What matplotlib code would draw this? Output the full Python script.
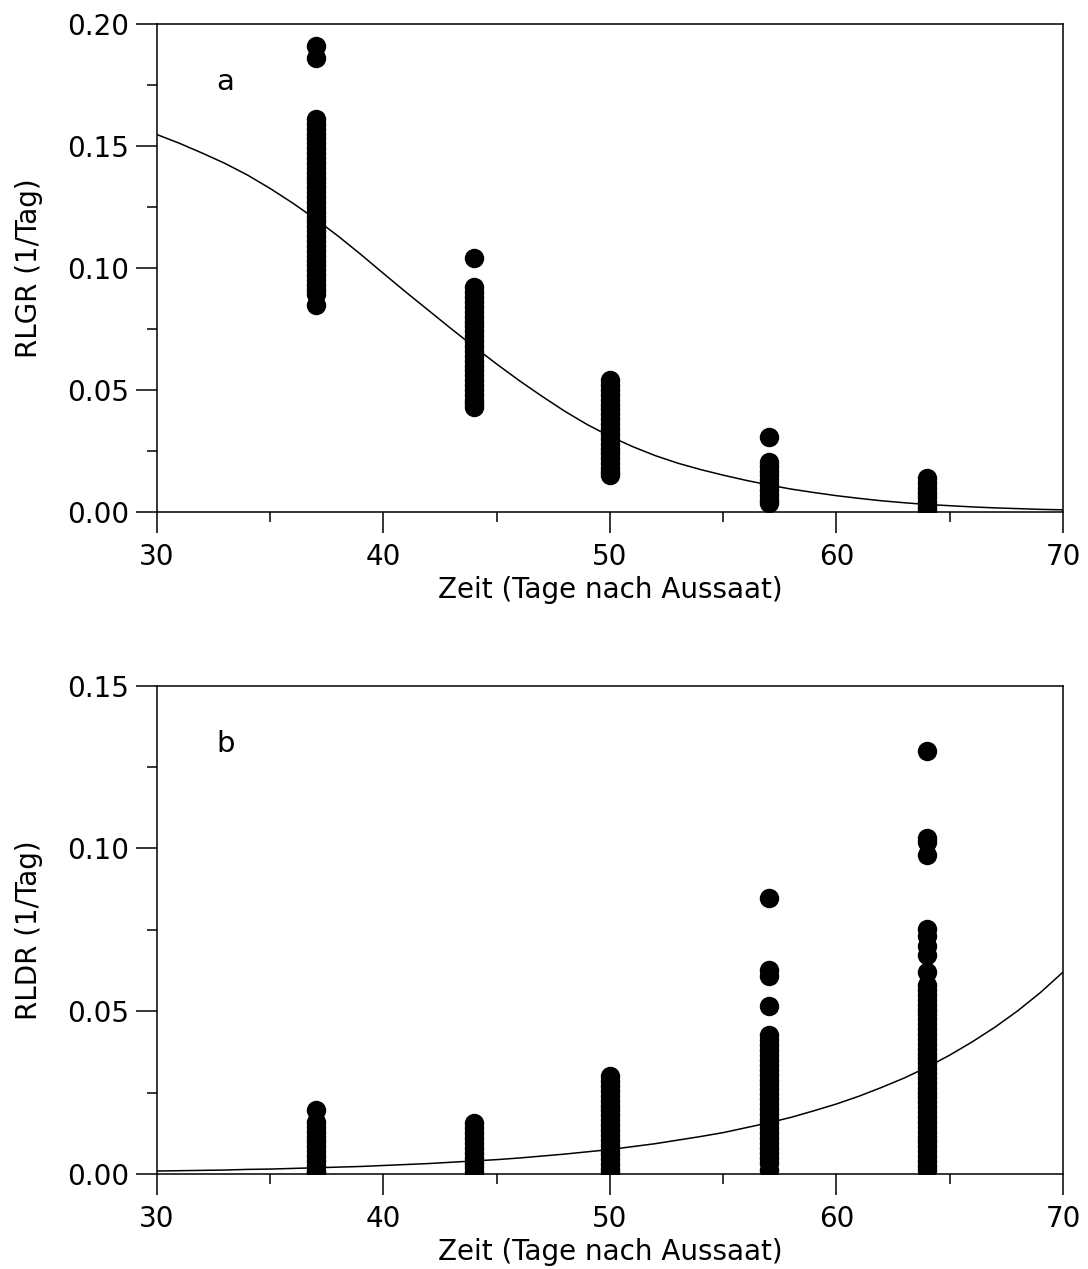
import matplotlib.pyplot as plt
from matplotlib.ticker import MultipleLocator

plt.rcParams['font.family'] = ['DejaVu Sans']

# Oben: RLGR (1/Tag), Messwerte je Termin
tage = [37, 44, 50, 57, 64]
rlgr_37 = [0.191, 0.186, 0.161, 0.159, 0.157, 0.155, 0.153, 0.151, 0.149, 0.147, 0.145,
           0.143, 0.141, 0.139, 0.137, 0.135, 0.133, 0.131, 0.129, 0.127, 0.125, 0.123,
           0.121, 0.119, 0.117, 0.115, 0.113, 0.111, 0.109, 0.107, 0.105, 0.103, 0.101,
           0.099, 0.097, 0.095, 0.093, 0.091, 0.0895, 0.085]
rlgr_44 = [0.104, 0.092, 0.090, 0.088, 0.086, 0.084, 0.082, 0.080, 0.078, 0.076, 0.074,
           0.072, 0.070, 0.068, 0.066, 0.064, 0.062, 0.060, 0.058, 0.056, 0.054, 0.052,
           0.050, 0.048, 0.046, 0.0445, 0.043]
rlgr_50 = [0.054, 0.052, 0.050, 0.048, 0.046, 0.044, 0.042, 0.040, 0.038, 0.036, 0.034,
           0.032, 0.030, 0.028, 0.026, 0.024, 0.022, 0.020, 0.018, 0.0165, 0.015]
rlgr_57 = [0.0306, 0.0205, 0.019, 0.017, 0.015, 0.013, 0.011, 0.009, 0.007, 0.005, 0.0036]
rlgr_64 = [0.0138, 0.012, 0.010, 0.008, 0.006, 0.004, 0.002, 0.0008]

# Unten: RLDR (1/Tag)
rldr_37 = [0.0195, 0.016, 0.0145, 0.013, 0.0115, 0.010, 0.0085, 0.007, 0.0055, 0.004,
           0.0025, 0.001, 0.0003]
rldr_44 = [0.0155, 0.014, 0.0125, 0.011, 0.0095, 0.008, 0.0065, 0.005, 0.0035, 0.002,
           0.0005]
rldr_50 = [0.030, 0.0285, 0.027, 0.0255, 0.024, 0.0225, 0.021, 0.0195, 0.018, 0.0165,
           0.015, 0.0135, 0.012, 0.0105, 0.009, 0.0075, 0.006, 0.0045, 0.003, 0.0015,
           0.0005]
rldr_57 = [0.0848, 0.0627, 0.0607, 0.0516, 0.0427, 0.041, 0.0395, 0.038, 0.0365, 0.035,
           0.0335, 0.032, 0.0305, 0.029, 0.0275, 0.026, 0.0245, 0.023, 0.0215, 0.020,
           0.0185, 0.017, 0.0155, 0.014, 0.0125, 0.011, 0.0095, 0.008, 0.0065, 0.005,
           0.0035, 0.0012]
rldr_64 = [0.130, 0.1032, 0.102, 0.098, 0.0752, 0.073, 0.0699, 0.0673, 0.0619, 0.058,
           0.0565, 0.055, 0.0535, 0.052, 0.0505, 0.049, 0.0475, 0.046, 0.0445, 0.043,
           0.0415, 0.040, 0.0385, 0.037, 0.0355, 0.034, 0.0325, 0.031, 0.0295, 0.028,
           0.0265, 0.025, 0.0235, 0.022, 0.0205, 0.019, 0.0175, 0.016, 0.0145, 0.013,
           0.0115, 0.010, 0.0085, 0.007, 0.0055, 0.004, 0.0025, 0.0012]

# angepasste Kurven (je Tag)
kurve_x = list(range(30, 71))
kurve_rlgr = [0.1546, 0.1510, 0.1470, 0.1428, 0.1380, 0.1325, 0.1265, 0.1200, 0.1130,
              0.1055, 0.0977, 0.0900, 0.0825, 0.0750, 0.0677, 0.0606, 0.0538, 0.0474,
              0.0413, 0.0358, 0.0310, 0.0268, 0.0231, 0.0200, 0.0174, 0.0151, 0.0130,
              0.0111, 0.0094, 0.0080, 0.0067, 0.0056, 0.0046, 0.0038, 0.0031, 0.0026,
              0.0021, 0.0017, 0.0014, 0.0011, 0.0009]
kurve_rldr = [0.0009, 0.0010, 0.0011, 0.0012, 0.0014, 0.0015, 0.0017, 0.0019, 0.0021,
              0.0023, 0.0026, 0.0029, 0.0032, 0.0036, 0.0040, 0.0044, 0.0049, 0.0055,
              0.0061, 0.0068, 0.0075, 0.0084, 0.0093, 0.0104, 0.0115, 0.0127, 0.0142,
              0.0157, 0.0174, 0.0194, 0.0215, 0.0239, 0.0266, 0.0295, 0.0328, 0.0365,
              0.0406, 0.0451, 0.0501, 0.0557, 0.0620]

fs = 20


def panel(ax, werte, kurve, ylim, ylabel, buchstabe, bpos):
    for t, w in zip(tage, werte):
        ax.plot([t] * len(w), w, 'o', color='black', ms=14, mew=0)
    ax.plot(kurve_x, kurve, color='black', lw=1.1)
    ax.set_xlim(30, 70)
    ax.set_ylim(0, ylim)
    ax.xaxis.set_major_locator(MultipleLocator(10))
    ax.xaxis.set_minor_locator(MultipleLocator(5))
    ax.yaxis.set_major_locator(MultipleLocator(0.05))
    ax.yaxis.set_minor_locator(MultipleLocator(0.025))
    ax.yaxis.set_major_formatter(lambda v, p: '%.2f' % v)
    ax.tick_params(which='both', direction='out', width=1.1, labelsize=fs, color='black')
    ax.tick_params(which='major', length=15)
    ax.tick_params(which='minor', length=7.5)
    ax.tick_params(axis='x', pad=7.5)
    ax.tick_params(axis='y', pad=5)
    for s in ax.spines.values():
        s.set_linewidth(1.1)
    ax.set_xlabel('Zeit (Tage nach Aussaat)', fontsize=fs)
    ax.set_ylabel(ylabel, fontsize=fs)
    ax.xaxis.set_label_coords(0.5, -0.132)
    ax.yaxis.set_label_coords(-0.126, 0.5)
    ax.text(bpos[0], bpos[1], buchstabe, fontsize=fs + 1, ha='left', va='center')


fig = plt.figure(figsize=(10.88, 12.69), dpi=100)
ax1 = fig.add_axes([0.1443, 0.5965, 0.8327, 0.3848])
ax2 = fig.add_axes([0.1443, 0.0749, 0.8327, 0.3848])

panel(ax1, [rlgr_37, rlgr_44, rlgr_50, rlgr_57, rlgr_64], kurve_rlgr, 0.20,
      'RLGR (1/Tag)', 'a', (32.6, 0.176))
panel(ax2, [rldr_37, rldr_44, rldr_50, rldr_57, rldr_64], kurve_rldr, 0.15,
      'RLDR (1/Tag)', 'b', (32.6, 0.132))

fig.savefig('out.png', dpi=100)
